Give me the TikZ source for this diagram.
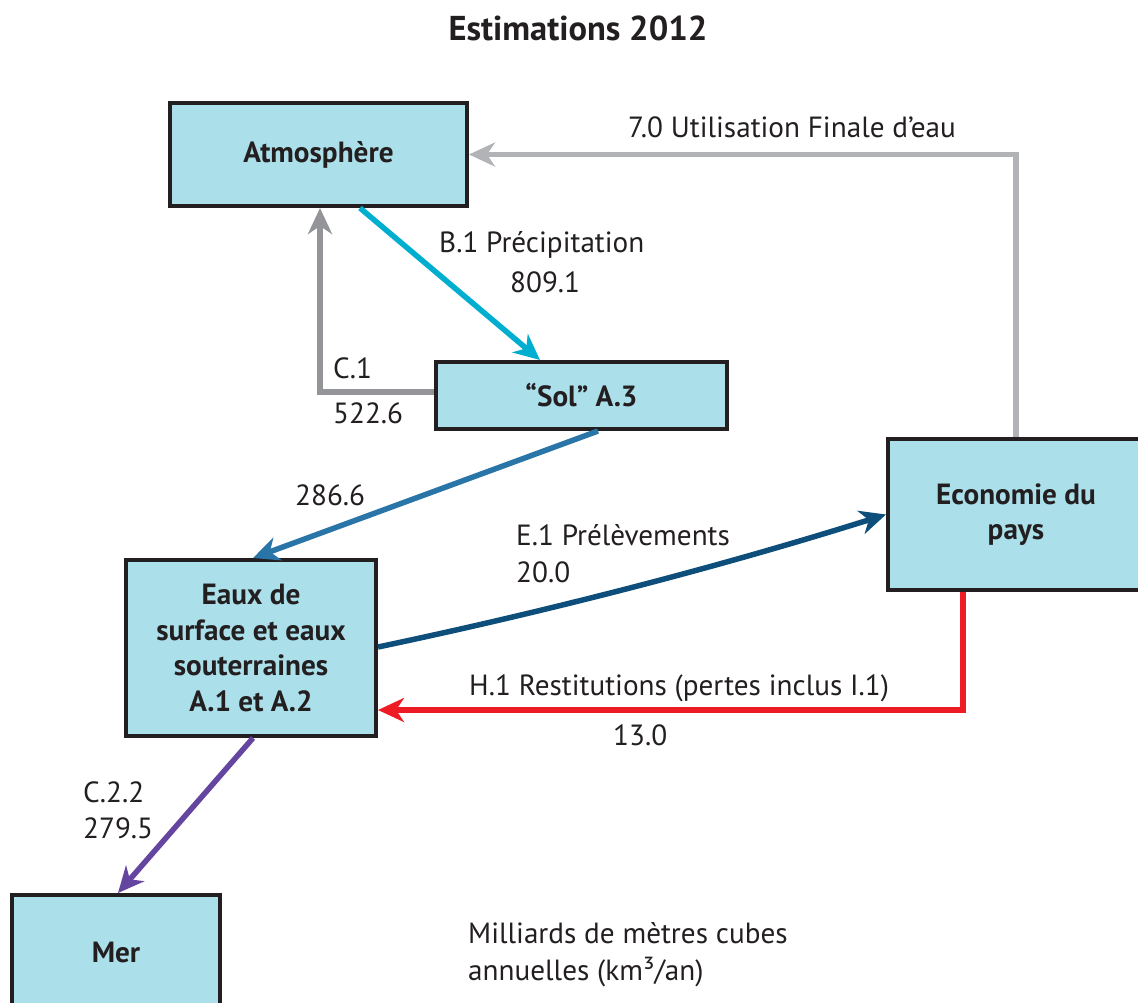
\documentclass[tikz,border=0pt]{standalone}
\usepackage{fontspec}
\setmainfont{PT Sans}
\usetikzlibrary{arrows.meta,calc}
\definecolor{boxfill}{HTML}{ABDFEA}
\definecolor{boxline}{HTML}{231F20}
\definecolor{grayC}{HTML}{939598}
\definecolor{grayU}{HTML}{B1B3B6}
\definecolor{cyanB}{HTML}{00AECF}
\definecolor{blueS}{HTML}{2A75A8}
\definecolor{navyE}{HTML}{0D4E7A}
\definecolor{redH}{HTML}{ED1C24}
\definecolor{purpleC}{HTML}{6446A0}
\definecolor{txt}{HTML}{231F20}
\begin{document}
\begin{tikzpicture}[x=1pt,y=-1pt,
  every node/.style={text=txt},
  box/.style={draw=boxline, line width=4pt, fill=boxfill, inner sep=0pt,
    font=\fontsize{29.2}{35.5}\selectfont\bfseries, align=center},
  lbl/.style={anchor=base west, inner sep=0pt, font=\fontsize{29.2}{35}\selectfont},
  flow/.style={line width=5.5pt, -{Stealth[length=26pt,width=24pt,inset=8pt]}}
]
\useasboundingbox (0,0) rectangle (1138,1002);
\fill[white] (0,0) rectangle (1138,1002);

\node[anchor=base, inner sep=0pt, font=\fontsize{34.5}{40}\selectfont\bfseries] (title) at (578,40) {Estimations 2012};

\node[box, minimum width=297pt, minimum height=103pt] (atm) at (318.5,154.5) {Atmosphère};
\node[box, minimum width=291pt, minimum height=67pt] (sol) at (581.5,395.5) {“Sol” A.3};
\node[box, minimum width=250pt, minimum height=176pt] (eaux) at (251,648) {Eaux de\\surface et eaux\\souterraines\\A.1 et A.2};
\node[box, minimum width=256pt, minimum height=151pt] (eco) at (1016,514.5) {Economie du\\pays};
\node[box, minimum width=208pt, minimum height=114pt] (mer) at (116,952) {Mer};

% flows
\draw[flow, grayU, line join=miter] (eco.north) |- (atm.east);
\draw[flow, grayC, line join=miter] ([yshift=3.5pt]sol.west) -| ([xshift=1.5pt]atm.south);
\draw[flow, cyanB] ([xshift=41.5pt]atm.south) -- ([xshift=-41.5pt]sol.north);
\draw[flow, blueS] ([xshift=16.5pt]sol.south) -- ([xshift=2pt]eaux.north);
\draw[flow, navyE] ([yshift=1pt]eaux.east) .. controls (549,611) and (719,567) .. (eco.west);
\draw[flow, redH, line join=miter] ([xshift=-53pt]eco.south) |- ([yshift=-62pt]eaux.east);
\draw[flow, purpleC] ([xshift=2pt]eaux.south) -- ([xshift=2pt]mer.north);

% labels
\node[lbl] (lu) at (628,137) {7.0 Utilisation Finale d’eau};
\node[lbl] (lb1) at (439,252) {B.1 Précipitation};
\node[lbl] (lb2) at (510,292) {809.1};
\node[lbl] (lc1) at (333,378) {C.1};
\node[lbl] (lc2) at (333,423) {522.6};
\node[lbl] (ls) at (295,505) {286.6};
\node[lbl] (le1) at (516,545) {E.1 Prélèvements};
\node[lbl] (le2) at (516,582) {20.0};
\node[lbl] (lh1) at (469,695) {H.1 Restitutions (pertes inclus I.1)};
\node[lbl] (lh2) at (613,745) {13.0};
\node[lbl] (lm1) at (83,802) {C.2.2};
\node[lbl] (lm2) at (83,838) {279.5};
\node[lbl] (u1) at (468,943) {Milliards de mètres cubes};
\node[lbl] (u2) at (468,980) {annuelles (km³/an)};
\end{tikzpicture}
\end{document}
